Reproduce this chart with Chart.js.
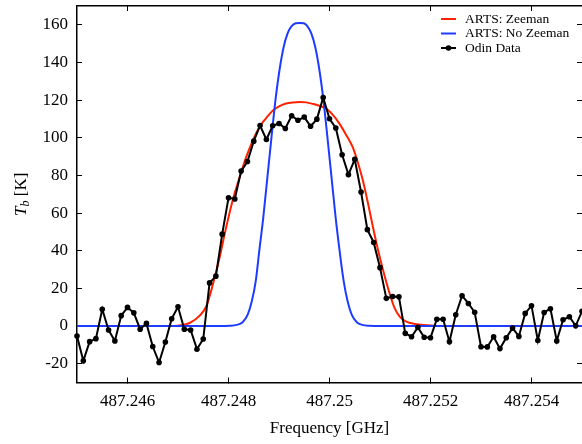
<!DOCTYPE html>
<html>
<head>
<meta charset="utf-8">
<script src="https://cdn.jsdelivr.net/npm/chart.js@4.4.1/dist/chart.umd.min.js"></script>
<style>
  html, body { margin: 0; padding: 0; background: #fff; }
  #wrap { width: 582px; height: 444px; }
</style>
</head>
<body>
<div id="wrap"><canvas id="chart" width="582" height="444"></canvas></div>
<script>
// Odin channels [GHz] and measured brightness temperature [K]
const odinFreq = [
  487.245, 487.245125, 487.24525, 487.245375, 487.2455, 487.245625, 487.24575, 487.245875, 487.246, 487.246125,
  487.24625, 487.246375, 487.2465, 487.246625, 487.24675, 487.246875, 487.247, 487.247125, 487.24725, 487.247375,
  487.2475, 487.247625, 487.24775, 487.247875, 487.248, 487.248125, 487.24825, 487.248375, 487.2485, 487.248625,
  487.24875, 487.248875, 487.249, 487.249125, 487.24925, 487.249375, 487.2495, 487.249625, 487.24975, 487.249875,
  487.25, 487.250125, 487.25025, 487.250375, 487.2505, 487.250625, 487.25075, 487.250875, 487.251, 487.251125,
  487.25125, 487.251375, 487.2515, 487.251625, 487.25175, 487.251875, 487.252, 487.252125, 487.25225, 487.252375,
  487.2525, 487.252625, 487.25275, 487.252875, 487.253, 487.253125, 487.25325, 487.253375, 487.2535, 487.253625,
  487.25375, 487.253875, 487.254, 487.254125, 487.25425, 487.254375, 487.2545, 487.254625, 487.25475, 487.254875,
  487.255
];
const odinTb = [
  -5.3, -18.5, -8.3, -6.7, 8.9, -2.1, -7.9, 5.5, 9.9, 7.0,
  -1.7, 1.4, -10.9, -19.4, -8.5, 3.9, 10.2, -1.7, -2.1, -12.3,
  -6.9, 22.9, 26.5, 48.8, 68.1, 67.5, 82.3, 87.4, 98.2, 106.5,
  99.1, 106.4, 107.6, 104.9, 111.7, 109.3, 111.0, 106.1, 109.9, 121.4,
  110.1, 105.2, 91.0, 80.4, 88.5, 71.2, 51.2, 44.4, 31.0, 14.7,
  15.7, 15.5, -3.9, -5.7, -0.7, -6.0, -6.2, 3.6, 3.6, -8.3,
  6.0, 16.1, 12.0, 7.3, -11.0, -11.1, -5.7, -12.0, -6.2, -1.1,
  -5.5, 6.7, 10.8, -7.7, 7.2, 9.2, -7.9, 3.3, 4.9, 0.1, 7.8
];

// ARTS simulation with Zeeman splitting
const zeemanFreq = [
  487.245, 487.24683, 487.24703, 487.24723, 487.24743, 487.24756, 487.24769, 487.24782, 487.24795, 487.24809,
  487.24822, 487.24835, 487.24848, 487.24861, 487.24875, 487.24888, 487.24901, 487.24914, 487.24927, 487.24941,
  487.24954, 487.24967, 487.2498, 487.24994, 487.25007, 487.2502, 487.25033, 487.25046, 487.25056, 487.25066,
  487.25076, 487.25086, 487.25096, 487.25106, 487.25119, 487.25129, 487.25139, 487.25149, 487.25158, 487.25172,
  487.25192, 487.25218, 487.255
];
const zeemanTb = [
  0, 0, 0.3, 1.6, 5.5, 10.5, 22, 36, 52, 67.5,
  79, 89.7, 98.5, 105.6, 110.6, 114.5, 116.8, 118.2, 118.8, 119,
  118.8, 118, 117, 115.4, 112, 107.4, 101.5, 95, 87, 77.4,
  65.5, 52.6, 40.5, 29.7, 17.3, 9.5, 5, 2.8, 1.7, 1.0,
  0.4, 0, 0
];

// ARTS simulation without Zeeman splitting
const noZeemanFreq = [
  487.245, 487.24782, 487.24802, 487.24816, 487.24828, 487.24838, 487.24846, 487.24854, 487.24861, 487.24869,
  487.24877, 487.24885, 487.24893, 487.24901, 487.24909, 487.24917, 487.24925, 487.24933, 487.24941, 487.24949,
  487.24956, 487.24964, 487.24972, 487.2498, 487.24988, 487.24996, 487.25004, 487.25012, 487.2502, 487.25028,
  487.25036, 487.25044, 487.25054, 487.25065, 487.25079, 487.25099, 487.255
];
const noZeemanTb = [
  0, 0, 0.15, 0.6, 2, 6, 13, 24, 40, 58,
  79, 100, 120, 136, 148, 155.5, 159.3, 160.8, 161, 160.8,
  159.3, 155.5, 148, 136, 120, 100, 79, 58, 40, 24,
  13, 6, 2, 0.6, 0.15, 0, 0
];

const freqTicks = [487.246, 487.248, 487.25, 487.252, 487.254];
const tbTicks = [-20, 0, 20, 40, 60, 80, 100, 120, 140, 160];
const seriesNames = ["ARTS: Zeeman", "ARTS: No Zeeman", "Odin Data"];

const SERIF = "'Liberation Serif', 'Times New Roman', serif";
Chart.defaults.font.family = SERIF;
Chart.defaults.font.size = 17;
Chart.defaults.color = "#000";

function pairs(xs, ys) {
  return xs.map((x, i) => ({ x: x, y: ys[i] }));
}

// fixed axis size, and no extra room for overhanging labels
function fixSize(key, size) {
  return s => {
    s[key] = size;
    s.paddingTop = s.paddingBottom = s.paddingLeft = s.paddingRight = 0;
  };
}

// inward ticks on all four sides, like the original figure
function axis(position, ticks, min, max, extra) {
  return Object.assign({
    type: "linear",
    position: position,
    min: min,
    max: max,
    afterBuildTicks: s => { s.ticks = ticks.map(v => ({ value: v })); },
    grid: { drawOnChartArea: false, drawTicks: true, tickLength: -5, color: "#000", lineWidth: 1 },
    border: { display: true, color: "#000", width: 1.5 }
  }, extra);
}

// small legend in the upper right corner
const cornerLegend = {
  id: "cornerLegend",
  afterDraw(chart) {
    const ctx = chart.ctx;
    const rows = [19, 33.5, 48];
    ctx.save();
    ctx.font = "13.5px " + SERIF;
    ctx.textBaseline = "middle";
    chart.data.datasets.forEach((ds, i) => {
      const y = rows[i];
      ctx.strokeStyle = ds.borderColor;
      ctx.lineWidth = 2;
      ctx.beginPath();
      ctx.moveTo(441, y);
      ctx.lineTo(456, y);
      ctx.stroke();
      if (ds.pointRadius > 0) {
        ctx.fillStyle = ds.pointBackgroundColor;
        ctx.beginPath();
        ctx.arc(448.5, y, 2.8, 0, Math.PI * 2);
        ctx.fill();
      }
      ctx.fillStyle = "#000";
      ctx.fillText(ds.label, 465, y);
    });
    ctx.restore();
  }
};

// y axis title with subscript: T_b [K]
const yTitle = {
  id: "yTitle",
  afterDraw(chart) {
    const ctx = chart.ctx;
    const a = chart.chartArea;
    const big = "17px " + SERIF;
    const italic = "italic 17px " + SERIF;
    const sub = "italic 12px " + SERIF;
    ctx.save();
    ctx.font = italic; const wT = ctx.measureText("T").width;
    ctx.font = sub; const wb = ctx.measureText("b").width;
    ctx.font = big; const wK = ctx.measureText(" [K]").width;
    const total = wT + wb + wK;
    ctx.translate(22, (a.top + a.bottom) / 2);
    ctx.rotate(-Math.PI / 2);
    ctx.fillStyle = "#000";
    ctx.textBaseline = "middle";
    let x = -total / 2;
    ctx.font = italic; ctx.fillText("T", x, 0); x += wT;
    ctx.font = sub; ctx.fillText("b", x, 4); x += wb;
    ctx.font = big; ctx.fillText(" [K]", x, 0);
    ctx.restore();
  }
};

new Chart(document.getElementById("chart"), {
  type: "line",
  data: {
    datasets: [
      {
        label: seriesNames[0],
        data: pairs(zeemanFreq, zeemanTb),
        borderColor: "#ff2200",
        borderWidth: 2,
        pointRadius: 0,
        cubicInterpolationMode: "monotone",
        order: 2
      },
      {
        label: seriesNames[1],
        data: pairs(noZeemanFreq, noZeemanTb),
        borderColor: "#1e3cff",
        borderWidth: 2,
        pointRadius: 0,
        cubicInterpolationMode: "monotone",
        order: 1
      },
      {
        label: seriesNames[2],
        data: pairs(odinFreq, odinTb),
        borderColor: "#000",
        borderWidth: 2,
        pointRadius: 2.8,
        pointBackgroundColor: "#000",
        pointBorderWidth: 0,
        tension: 0,
        clip: false,
        order: 0
      }
    ]
  },
  options: {
    responsive: false,
    animation: false,
    devicePixelRatio: 1,
    layout: { autoPadding: false, padding: { top: 6, right: 0, left: 0, bottom: 0 } },
    plugins: { legend: { display: false }, tooltip: { enabled: false } },
    scales: {
      x: axis("bottom", freqTicks, 487.245, 487.255, {
        ticks: { padding: 14, maxRotation: 0, callback: v => String(parseFloat(v.toFixed(3))) },
        title: { display: true, text: "Frequency [GHz]", padding: { top: 0, bottom: 5 } },
        afterFit: fixSize("height", 61.5)
      }),
      y: axis("left", tbTicks, -30, 170, {
        ticks: { padding: 14 },
        afterFit: fixSize("width", 77)
      }),
      x2: axis("top", freqTicks, 487.245, 487.255, {
        ticks: { display: false },
        afterFit: fixSize("height", 0)
      }),
      y2: axis("right", tbTicks, -30, 170, {
        ticks: { display: false },
        border: { display: false },
        afterFit: fixSize("width", 0)
      })
    }
  },
  plugins: [cornerLegend, yTitle]
});
</script>
</body>
</html>
